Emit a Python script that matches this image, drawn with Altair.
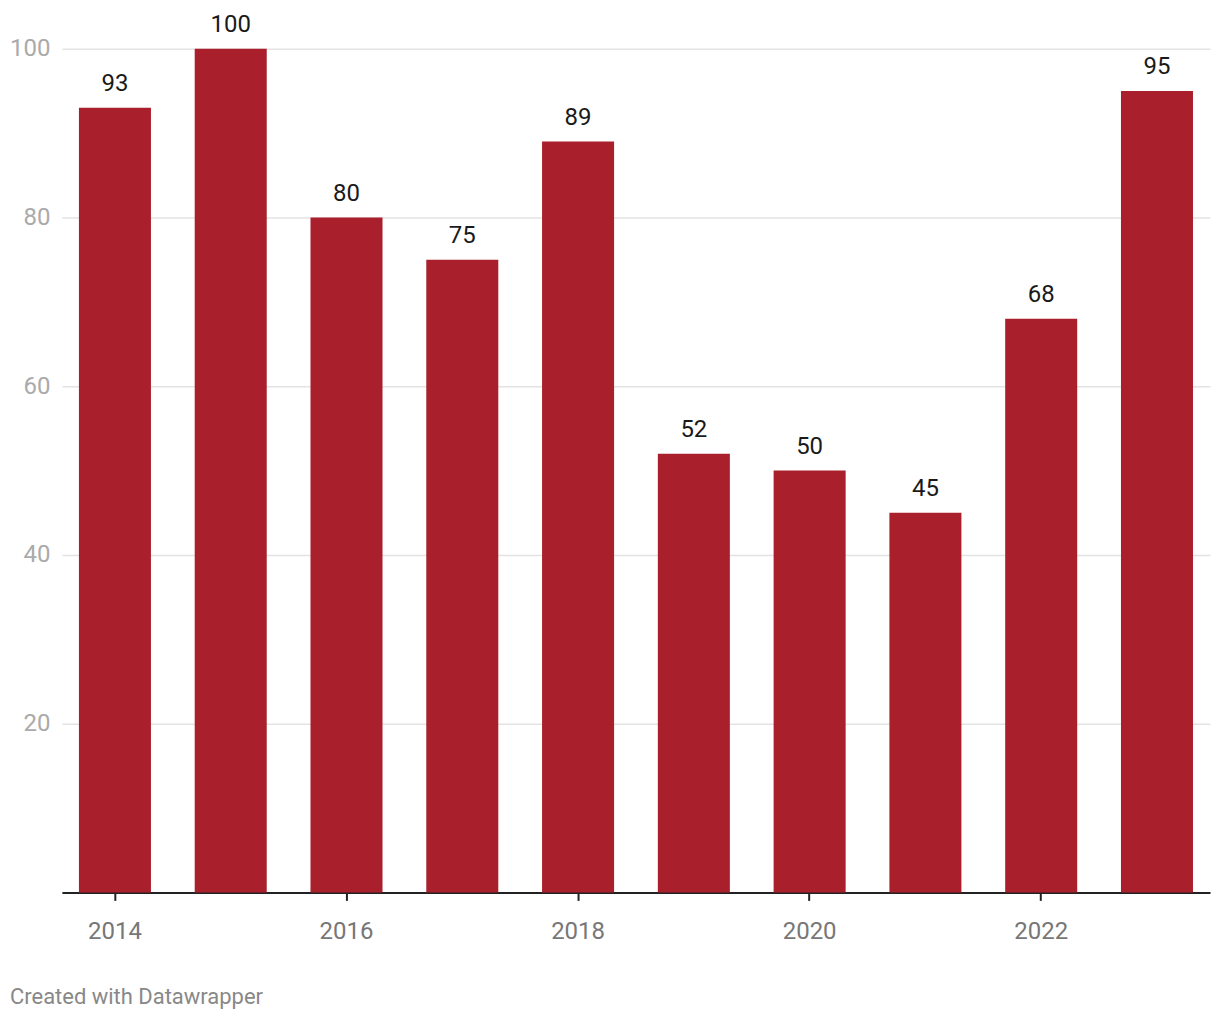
import altair as alt
import pandas as pd

years = [2014, 2015, 2016, 2017, 2018, 2019, 2020, 2021, 2022, 2023]
values = [93, 100, 80, 75, 89, 52, 50, 45, 68, 95]
x_tick_years = [2014, 2016, 2018, 2020, 2022]
y_ticks = [20, 40, 60, 80, 100]
footer = "Created with Datawrapper"

df = pd.DataFrame({"year": years, "value": values})

BAR = "#a91f2b"
FONT = "Roboto"

x_enc = alt.X(
    "year:O",
    scale=alt.Scale(paddingInner=0.378, paddingOuter=0.147),
    axis=alt.Axis(
        title=None,
        values=x_tick_years,
        labelAngle=0,
        labelFont=FONT,
        labelFontSize=24,
        labelColor="#777777",
        labelPadding=19,
        tickSize=8,
        tickWidth=2,
        tickColor="#222222",
        domainColor="#222222",
        domainWidth=2,
        grid=False,
    ),
)
y_enc = alt.Y(
    "value:Q",
    scale=alt.Scale(domain=[0, 100], nice=False),
    axis=alt.Axis(
        title=None,
        values=y_ticks,
        labelFont=FONT,
        labelFontSize=24,
        labelColor="#aaaaaa",
        labelPadding=12,
        ticks=False,
        domain=False,
        gridColor="#e3e3e3",
        gridWidth=1.5,
    ),
)

bars = alt.Chart(df).mark_bar(color=BAR).encode(x=x_enc, y=y_enc)
labels = alt.Chart(df).mark_text(
    font=FONT, fontSize=24, color="#1a1a1a", baseline="bottom", dy=-12
).encode(x=alt.X("year:O"), y=alt.Y("value:Q"), text=alt.Text("value:Q"))

foot = alt.Chart(pd.DataFrame({"t": [footer]})).mark_text(
    font=FONT, fontSize=22, color="#888888", align="left", baseline="middle"
).encode(x=alt.value(-52), y=alt.value(950), text="t:N")

chart = (
    alt.layer(bars, labels, foot)
    .properties(
        width=1150,
        height=845,
        background="white",
        autosize=alt.AutoSizeParams(type="none"),
        padding={"left": 54, "top": 40, "right": 2, "bottom": 150},
    )
    .configure_view(stroke=None, strokeWidth=0)
)

chart.save("out.html", embed_options={"renderer": "svg", "actions": False})
